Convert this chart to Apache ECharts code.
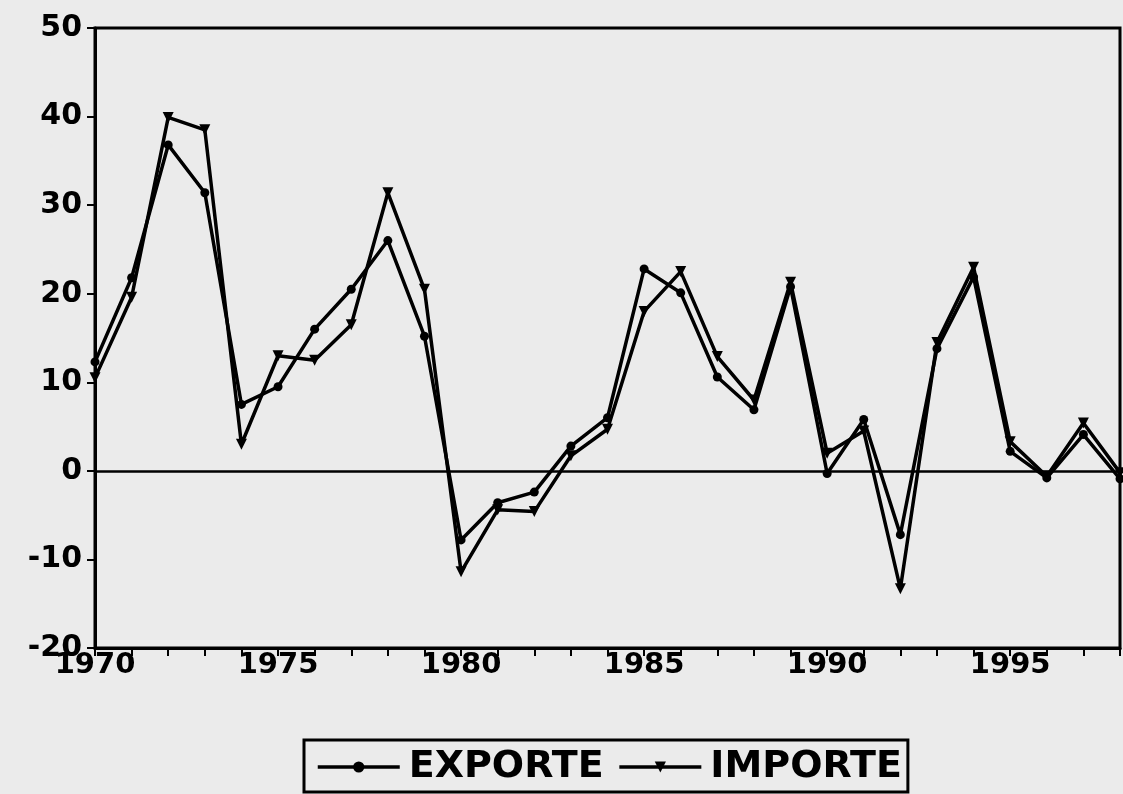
<!DOCTYPE html>
<html><head><meta charset="utf-8">
<script src="https://cdn.jsdelivr.net/npm/echarts@6/dist/echarts.min.js"></script>
<style>html,body{margin:0;padding:0;background:#ebebeb;}#c{width:1123px;height:794px;}</style>
</head><body><div id="c"></div>
<script>
const years = [1970,1971,1972,1973,1974,1975,1976,1977,1978,1979,1980,1981,1982,1983,1984,1985,1986,1987,1988,1989,1990,1991,1992,1993,1994,1995,1996,1997,1998];
const exporte = [12.3,21.8,36.8,31.4,7.5,9.5,16.0,20.5,26.0,15.2,-7.8,-3.6,-2.4,2.8,6.0,22.8,20.1,10.6,6.9,20.8,-0.3,5.8,-7.2,13.8,21.9,2.2,-0.8,4.1,-0.9];
const importe = [10.5,19.6,39.9,38.5,3.0,13.0,12.5,16.5,31.4,20.5,-11.4,-4.4,-4.6,1.7,4.7,18.0,22.5,12.9,8.0,21.3,2.0,4.5,-13.3,14.5,23.0,3.3,-0.6,5.4,-0.2];
const yTicks = [-20,-10,0,10,20,30,40,50];
const xLabelStep = 5;

const chart = echarts.init(document.getElementById('c'), null, {renderer:'canvas'});
const font = 'DejaVu Sans';
chart.setOption({
  backgroundColor: '#ebebeb',
  animation: false,
  grid: {left: 95, right: 2, top: 28, bottom: 146, show: true, borderColor: '#000', borderWidth: 3, backgroundColor: 'transparent'},
  xAxis: {
    type: 'value', min: years[0], max: years[years.length-1], interval: 1,
    axisLine: {show: true, onZero: false, lineStyle: {color: '#000', width: 3}},
    axisTick: {show: true, length: 8, lineStyle: {color: '#000', width: 2}},
    splitLine: {show: false},
    axisLabel: {color: '#000', fontFamily: font, fontWeight: 'bold', fontSize: 29, margin: 3,
      formatter: v => (v % xLabelStep === 0 && v < years[years.length-1]) ? String(v) : ''}
  },
  yAxis: {
    type: 'value', min: yTicks[0], max: yTicks[yTicks.length-1], interval: 10,
    axisLine: {show: true, onZero: false, lineStyle: {color: '#000', width: 3}},
    axisTick: {show: true, length: 8, lineStyle: {color: '#000', width: 2}},
    splitLine: {show: false},
    axisLabel: {color: '#000', fontFamily: font, fontWeight: 'bold', fontSize: 30, margin: 13}
  },
  legend: {
    left: 304, top: 740, orient: 'horizontal',
    backgroundColor: 'transparent', borderColor: '#000', borderWidth: 3,
    padding: [8, 6, 6, 12], itemGap: 14, itemWidth: 82, itemHeight: 14,
    lineStyle: {width: 3.5, color: '#000'},
    textStyle: {color: '#000', fontFamily: font, fontWeight: 'bold', fontSize: 38, padding: [0,0,0,4]},
    data: ['EXPORTE', 'IMPORTE']
  },
  series: [
    {name: 'EXPORTE', type: 'line', data: years.map((y,i)=>[y, exporte[i]]),
      symbol: 'circle', symbolSize: 9, itemStyle: {color: '#000'},
      lineStyle: {color: '#000', width: 3.5},
      markLine: {silent: true, symbol: 'none', label: {show: false},
        lineStyle: {color: '#000', width: 2.5, type: 'solid'}, data: [{yAxis: 0}]}},
    {name: 'IMPORTE', type: 'line', data: years.map((y,i)=>[y, importe[i]]),
      symbol: 'triangle', symbolRotate: 180, symbolSize: 11, itemStyle: {color: '#000'},
      lineStyle: {color: '#000', width: 3.5}}
  ]
});
</script></body></html>
